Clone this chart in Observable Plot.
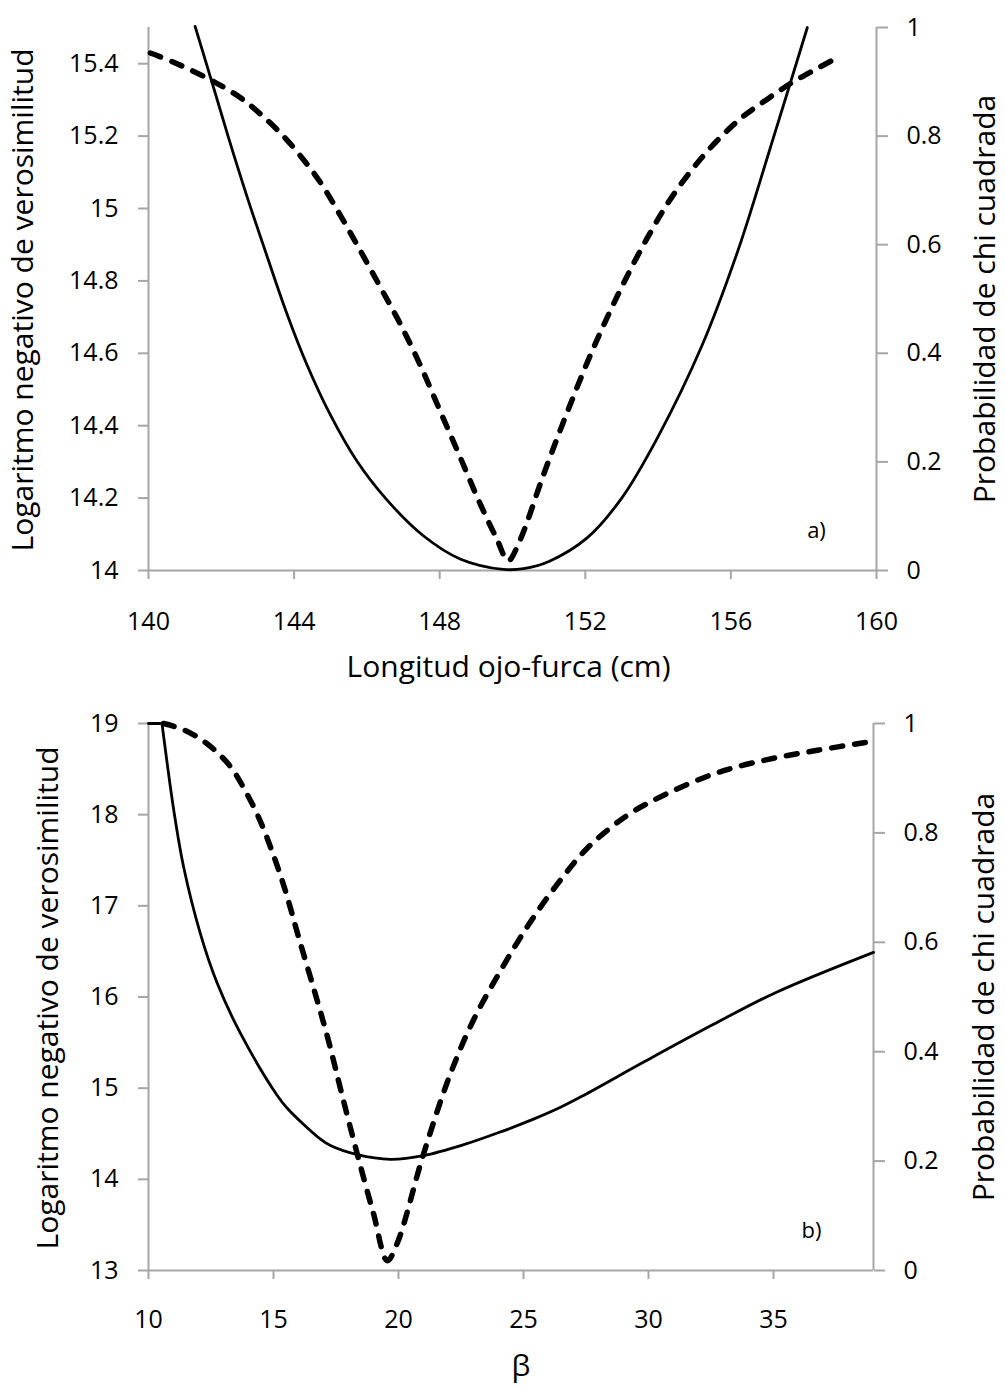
<!DOCTYPE html>
<html>
<head>
<meta charset="utf-8">
<script src="https://cdn.jsdelivr.net/npm/d3@7"></script>
<script src="https://cdn.jsdelivr.net/npm/@observablehq/plot@0.6"></script>
<style>
  html, body { margin: 0; padding: 0; background: #fff; }
  #chart { width: 1005px; }
  #chart svg { display: block; }
</style>
</head>
<body>
<div id="chart"></div>
<script>
// ---------- Panel a) : Longitud ojo-furca ----------
const aXDomain = [140, 160];
const aLeftDomain = [14, 15.5];
const aTicksX = [140, 144, 148, 152, 156, 160];
const aTicksLeft = [14, 14.2, 14.4, 14.6, 14.8, 15, 15.2, 15.4];
const aTicksRight = [0, 0.2, 0.4, 0.6, 0.8, 1];

const aSolidX   = [141.28, 141.74, 142.20, 142.70, 143.25, 143.80, 144.35, 144.99, 145.72, 146.55, 147.55, 148.56, 149.75, 150.3, 151.0, 152.05, 153.0, 154.0, 155.2, 156.18, 157.09, 158.1];
const aSolidNLL = [15.503, 15.350, 15.195, 15.035, 14.870, 14.710, 14.569, 14.431, 14.303, 14.195, 14.096, 14.032, 14.003, 14.005, 14.025, 14.09, 14.20, 14.37, 14.62, 14.88, 15.17, 15.50];

const aDashX = [140.05, 140.69, 141.69, 142.52, 143.07, 143.62, 144.17, 144.72, 145.27, 145.82, 146.36, 146.91, 147.46, 148.01, 148.56, 149.11, 149.57, 149.88, 150.2, 150.85, 151.5, 152.2, 152.97, 153.7, 154.4, 155.35, 156.26, 157.0, 157.64, 158.3, 159.0];
const aDashP = [0.953, 0.936, 0.904, 0.871, 0.841, 0.806, 0.764, 0.715, 0.654, 0.589, 0.523, 0.455, 0.379, 0.294, 0.209, 0.123, 0.058, 0.018, 0.055, 0.176, 0.291, 0.406, 0.518, 0.612, 0.690, 0.772, 0.832, 0.868, 0.897, 0.922, 0.947];

// ---------- Panel b) : beta ----------
const bXDomain = [10, 39];
const bLeftDomain = [13, 19];
const bTicksX = [10, 15, 20, 25, 30, 35];
const bTicksLeft = [13, 14, 15, 16, 17, 18, 19];
const bTicksRight = [0, 0.2, 0.4, 0.6, 0.8, 1];

// flat start of the solid curve (capped at the top of the axis)
const bFlatX = [10.0, 10.54];
const bFlatNLL = [19, 19];
const bSolidX   = [10.54, 11.01, 11.41, 12.08, 12.75, 13.68, 15.15, 15.55, 16.88, 17.28, 18.35, 19.68, 21.0, 22.61, 24.08, 25.4, 26.48, 27.4, 29.9, 32.6, 35.1, 39.0];
const bSolidNLL = [19, 18.05, 17.42, 16.69, 16.15, 15.60, 14.92, 14.78, 14.44, 14.37, 14.27, 14.22, 14.26, 14.38, 14.52, 14.66, 14.79, 14.92, 15.30, 15.70, 16.05, 16.49];

const bDashX = [10.6, 11.33, 12.13, 12.8, 13.33, 13.87, 14.4, 14.93, 15.47, 16.0, 16.67, 17.2, 17.73, 18.35, 19.0, 19.55, 19.95, 21.0, 22.08, 23.0, 24.08, 25.2, 26.3, 27.55, 29.15, 30.75, 32.75, 34.75, 36.75, 38.9];
const bDashP = [1.0, 0.990, 0.970, 0.945, 0.918, 0.877, 0.829, 0.768, 0.695, 0.610, 0.506, 0.420, 0.323, 0.213, 0.104, 0.018, 0.050, 0.213, 0.360, 0.458, 0.548, 0.632, 0.703, 0.772, 0.832, 0.872, 0.910, 0.934, 0.951, 0.967];

// ---------- texts ----------
const leftTitle = "Logaritmo negativo de verosimilitud";
const rightTitle = "Probabilidad de chi cuadrada";
const aXTitle = "Longitud ojo-furca (cm)";
const bXTitle = "β";

const FONT = "'Open Sans', 'DejaVu Sans', sans-serif";
const AXIS = "#a6a6a6";

function panel(cfg) {
  const [lo, hi] = cfg.leftDomain;
  const toLeft = p => lo + p * (hi - lo);
  const solid = cfg.solidX.map((x, i) => ({x, y: cfg.solidY[i]}));
  const dashed = cfg.dashX.map((x, i) => ({x, y: toLeft(cfg.dashP[i])}));
  const flat = (cfg.flatX || []).map((x, i) => ({x, y: cfg.flatY[i]}));
  return Plot.plot({
    width: 1005,
    height: cfg.height,
    marginTop: cfg.mt,
    marginBottom: cfg.mb,
    marginLeft: 148,
    marginRight: cfg.mr,
    style: {fontFamily: FONT, fontSize: "25px", color: "#000", background: "#fff", overflow: "visible"},
    x: {domain: cfg.xDomain},
    y: {domain: cfg.leftDomain},
    marks: [
      Plot.ruleY([lo], {stroke: AXIS, strokeWidth: 2}),
      Plot.ruleX([cfg.xDomain[0]], {stroke: AXIS, strokeWidth: 2}),
      Plot.ruleX([cfg.xDomain[1]], {stroke: AXIS, strokeWidth: 2}),
      Plot.axisX(cfg.ticksX, {anchor: "bottom", tickSize: 9, tickPadding: cfg.xPad, stroke: AXIS, strokeWidth: 2, label: null, tickFormat: d => String(d), fontSize: 25}),
      Plot.axisY(cfg.ticksLeft, {anchor: "left", tickSize: 10, tickPadding: 20, stroke: AXIS, strokeWidth: 2, label: null, tickFormat: d => String(d), fontSize: 25}),
      Plot.axisY(cfg.ticksRight.map(toLeft), {anchor: "right", tickSize: 11, tickPadding: 19, stroke: AXIS, strokeWidth: 2, label: null, tickFormat: (d, i) => String(cfg.ticksRight[i]), fontSize: 25}),
      Plot.line(flat, {x: "x", y: "y", stroke: "#000", strokeWidth: 2.8}),
      Plot.line(solid, {x: "x", y: "y", curve: "catmull-rom", stroke: "#000", strokeWidth: 2.8, strokeLinejoin: "miter"}),
      Plot.line(dashed, {x: "x", y: "y", curve: "catmull-rom", stroke: "#000", strokeWidth: 5.5, strokeDasharray: "11,12", strokeLinecap: "round"}),
      Plot.text([cfg.tag], {text: d => d, frameAnchor: "bottom-right", dx: cfg.tagDx, dy: -40, fontSize: 22, textAnchor: "middle", lineAnchor: "middle", fill: "#000"}),
      Plot.text([cfg.xTitle], {text: d => d, frameAnchor: "bottom", dx: cfg.xTitleDx, dy: cfg.xTitleDy, fontSize: cfg.xTitleSize, textAnchor: "middle", lineAnchor: "middle", fill: "#000"}),
      Plot.text([leftTitle], {text: d => d, frameAnchor: "left", dx: cfg.leftTitleDx, dy: 1, rotate: -90, fontSize: 30, textAnchor: "middle", lineAnchor: "middle", fill: "#000"}),
      Plot.text([rightTitle], {text: d => d, frameAnchor: "right", dx: cfg.rightTitleDx, dy: 0, rotate: -90, fontSize: 30, textAnchor: "middle", lineAnchor: "middle", fill: "#000"})
    ]
  });
}

const chart = document.getElementById("chart");
chart.appendChild(panel({
  height: 690, mt: 27, mb: 120, mr: 129,
  xDomain: aXDomain, leftDomain: aLeftDomain,
  ticksX: aTicksX, ticksLeft: aTicksLeft, ticksRight: aTicksRight,
  solidX: aSolidX, solidY: aSolidNLL, dashX: aDashX, dashP: aDashP,
  xPad: 33, tag: "a)", tagDx: -60,
  xTitle: aXTitle, xTitleDx: -4, xTitleDy: 97, xTitleSize: 30,
  leftTitleDx: -125, rightTitleDx: 109
}));
chart.appendChild(panel({
  height: 699, mt: 33, mb: 119, mr: 132,
  xDomain: bXDomain, leftDomain: bLeftDomain,
  ticksX: bTicksX, ticksLeft: bTicksLeft, ticksRight: bTicksRight,
  flatX: bFlatX, flatY: bFlatNLL,
  solidX: bSolidX, solidY: bSolidNLL, dashX: bDashX, dashP: bDashP,
  xPad: 31, tag: "b)", tagDx: -62,
  xTitle: bXTitle, xTitleDx: 10, xTitleDy: 96, xTitleSize: 30,
  leftTitleDx: -100, rightTitleDx: 111
}));
</script>
</body>
</html>
